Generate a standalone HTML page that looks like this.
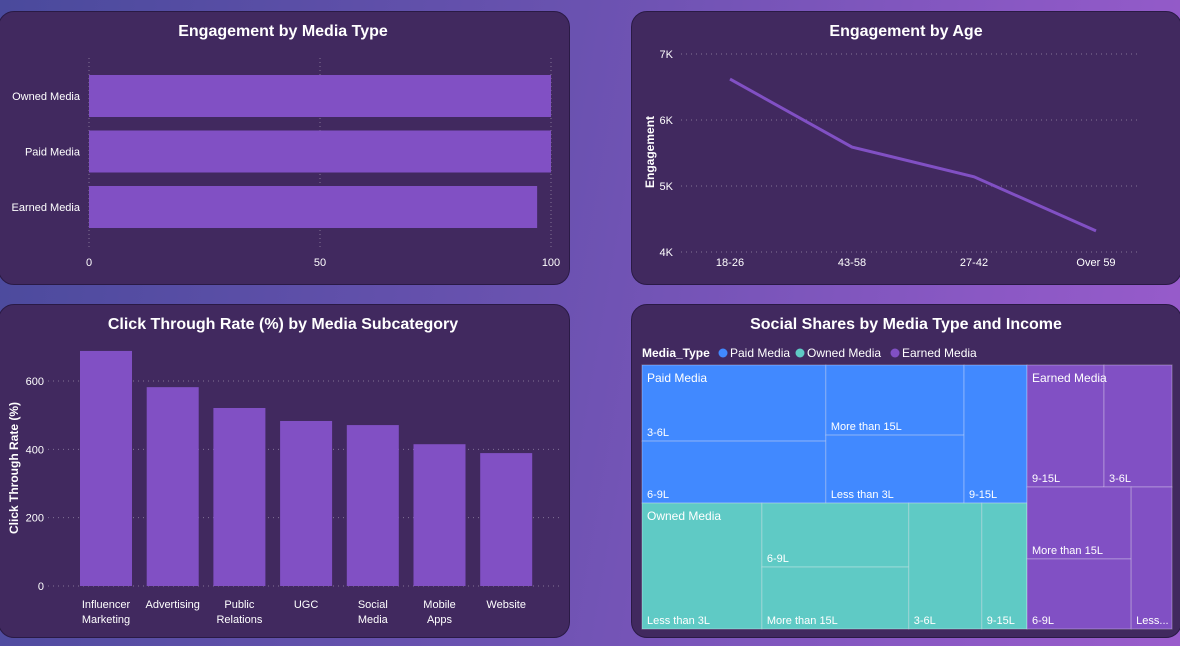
<!DOCTYPE html>
<html><head><meta charset="utf-8">
<style>
html,body{margin:0;padding:0}
body{width:1180px;height:646px;overflow:hidden;background:linear-gradient(100deg,#4a4a9c 0%,#6a52b0 45%,#8a58c4 80%,#9a5ccc 100%);font-family:"Liberation Sans",sans-serif;position:relative}
.panel{position:absolute;background:#41295f;border:1px solid #2a1a45;border-radius:16px;box-sizing:border-box}
svg{position:absolute;left:0;top:0}
text{fill:#fff;font-family:"Liberation Sans",sans-serif}
</style></head><body>
<div class="panel" style="left:-2px;top:11px;width:572px;height:274px"></div>
<div class="panel" style="left:631px;top:11px;width:551px;height:274px"></div>
<div class="panel" style="left:-2px;top:304px;width:572px;height:334px"></div>
<div class="panel" style="left:631px;top:304px;width:551px;height:334px"></div>
<svg id="s" width="1180" height="646">
<text x="283" y="36" font-size="16" font-weight="bold" text-anchor="middle">Engagement by Media Type</text>
<text x="906" y="36" font-size="16" font-weight="bold" text-anchor="middle">Engagement by Age</text>
<text x="283" y="329" font-size="16" font-weight="bold" text-anchor="middle">Click Through Rate (%) by Media Subcategory</text>
<text x="906" y="329" font-size="16" font-weight="bold" text-anchor="middle">Social Shares by Media Type and Income</text>
<text transform="translate(654,152) rotate(-90)" font-size="12" font-weight="bold" text-anchor="middle">Engagement</text>
<text transform="translate(18,468) rotate(-90)" font-size="12" font-weight="bold" text-anchor="middle">Click Through Rate (%)</text>
<text x="642" y="357" font-size="12" font-weight="bold">Media_Type</text>
<circle cx="723" cy="353" r="4.5" fill="#4189ff"/>
<text x="730" y="357" font-size="12">Paid Media</text>
<circle cx="800" cy="353" r="4.5" fill="#5fcac5"/>
<text x="807" y="357" font-size="12">Owned Media</text>
<circle cx="895" cy="353" r="4.5" fill="#8150c4"/>
<text x="902" y="357" font-size="12">Earned Media</text>
</svg>
<script>
const NS="http://www.w3.org/2000/svg";const S=document.getElementById('s');
function mk(t,a,txt){const e=document.createElementNS(NS,t);for(const k in a)e.setAttribute(k,a[k]);if(txt!==undefined)e.textContent=txt;S.appendChild(e);return e;}
const grid='rgba(255,255,255,0.35)';
// Chart 1
const mediaCats=['Owned Media','Paid Media','Earned Media'];
const mediaVals=[100,100,97];
const mediaTicks=[0,50,100];
// Chart 2
const ageCats=['18-26','43-58','27-42','Over 59'];
const ageVals=[6620,5590,5140,4320];
const ageTicks=[4000,5000,6000,7000];
const ageTickLabels=['4K','5K','6K','7K'];
// Chart 3
const ctrCats=[['Influencer','Marketing'],['Advertising'],['Public','Relations'],['UGC'],['Social','Media'],['Mobile','Apps'],['Website']];
const ctrVals=[688,582,521,483,471,415,389];
const ctrTicks=[0,200,400,600];
// Treemap
const tmGroups=['Paid Media','Owned Media','Earned Media'];
const tmPaidLabels=['3-6L','6-9L','More than 15L','Less than 3L','9-15L'];
const tmPaidVals=[140,114,97,94,87];
const tmOwnedLabels=['Less than 3L','6-9L','More than 15L','3-6L','9-15L'];
const tmOwnedVals=[151,94,91,92,57];
const tmEarnedLabels=['9-15L','3-6L','More than 15L','6-9L','Less...'];
const tmEarnedVals=[94,83,75,73,58];

// ---- chart 1
(function(){const x=v=>89+(v/100)*462;const top=60,bh=42,step=55.5;
mediaTicks.forEach(t=>{const l=mk('line',{x1:x(t),x2:x(t),y1:58,y2:248,stroke:grid,'stroke-dasharray':'1 3'});

const tx=mk('text',{x:x(t),y:266,'font-size':11,'text-anchor':'middle'},String(t));
});
mediaCats.forEach((c,i)=>{const y=75+i*step;
const r=mk('rect',{x:x(0),y:y,width:x(mediaVals[i])-x(0),height:bh,fill:'#8150c4'});

const t=mk('text',{x:80,y:y+bh/2+4,'font-size':11,'text-anchor':'end'},c);
});})();

// ---- chart 2
(function(){const y=v=>252-(v-4000)/3000*198;const xs=i=>730+i*122;
ageTicks.forEach((t,i)=>{const l=mk('line',{x1:681,x2:1141,y1:y(t),y2:y(t),stroke:grid,'stroke-dasharray':'1 4'});

const tx=mk('text',{x:673,y:y(t)+4,'font-size':11,'text-anchor':'end'},ageTickLabels[i]);
});
ageCats.forEach((c,i)=>{const tx=mk('text',{x:xs(i),y:266,'font-size':11,'text-anchor':'middle'},c);
});
const p=mk('polyline',{points:ageVals.map((v,i)=>xs(i)+','+y(v)).join(' '),fill:'none',stroke:'#8150c4','stroke-width':3});
})();

// ---- chart 3
(function(){const y=v=>586-v*(205/600);const xc=i=>106+i*66.7;
ctrTicks.forEach(t=>{const l=mk('line',{x1:48,x2:560,y1:y(t),y2:y(t),stroke:grid,'stroke-dasharray':'1 4'});

const tx=mk('text',{x:44,y:y(t)+4,'font-size':11,'text-anchor':'end'},String(t));
});
ctrCats.forEach((c,i)=>{const r=mk('rect',{x:xc(i)-26,y:y(ctrVals[i]),width:52,height:y(0)-y(ctrVals[i]),fill:'#8150c4'});

c.forEach((ln,j)=>{const tx=mk('text',{x:xc(i),y:608+j*15,'font-size':11,'text-anchor':'middle'},ln);
});});})();

// ---- treemap
(function(){const X0=642,Y0=365,W=530,H=264;
const sum=a=>a.reduce((s,v)=>s+v,0);
const P=sum(tmPaidVals),O=sum(tmOwnedVals),E=sum(tmEarnedVals);
const leftW=W*(P+O)/(P+O+E);
function cell(x,y,w,h,fill,label,name){const r=mk('rect',{x:x,y:y,width:w,height:h,fill:fill,stroke:'rgba(255,255,255,0.3)','stroke-width':1});

const t=mk('text',{x:x+5,y:y+h-5,'font-size':11},label);}
function group(x,y,w,h,name){const t=mk('text',{x:x+5,y:y+17,'font-size':12},name);}
// columns layout: cols = array of index arrays
function cols(x,y,w,h,vals,labels,colsIdx,fill,nm){const tot=sum(vals);let cx=x;
colsIdx.forEach(ci=>{const cs=sum(ci.map(i=>vals[i]));const cw=w*cs/tot;let cy=y;
ci.forEach(i=>{const ch=h*vals[i]/cs;cell(cx,cy,cw,ch,fill,labels[i],nm);cy+=ch;});cx+=cw;});}
const pH=H*P/(P+O);
cols(X0,Y0,leftW,pH,tmPaidVals,tmPaidLabels,[[0,1],[2,3],[4]],'#4189ff','treemap-paid-cell');
group(X0,Y0,leftW,pH,tmGroups[0]);
cols(X0,Y0+pH,leftW,H-pH,tmOwnedVals,tmOwnedLabels,[[0],[1,2],[3],[4]],'#5fcac5','treemap-owned-cell');
group(X0,Y0+pH,leftW,H-pH,tmGroups[1]);
const ex=X0+leftW,ew=W-leftW;const r1=tmEarnedVals[0]+tmEarnedVals[1];const rh=H*r1/E;
cols(ex,Y0,ew,rh,tmEarnedVals.slice(0,2),tmEarnedLabels.slice(0,2),[[0],[1]],'#8150c4','treemap-earned-cell');
cols(ex,Y0+rh,ew,H-rh,tmEarnedVals.slice(2),tmEarnedLabels.slice(2),[[0,1],[2]],'#8150c4','treemap-earned-cell');
group(ex,Y0,ew,H,tmGroups[2]);})();
</script>
</body></html>
